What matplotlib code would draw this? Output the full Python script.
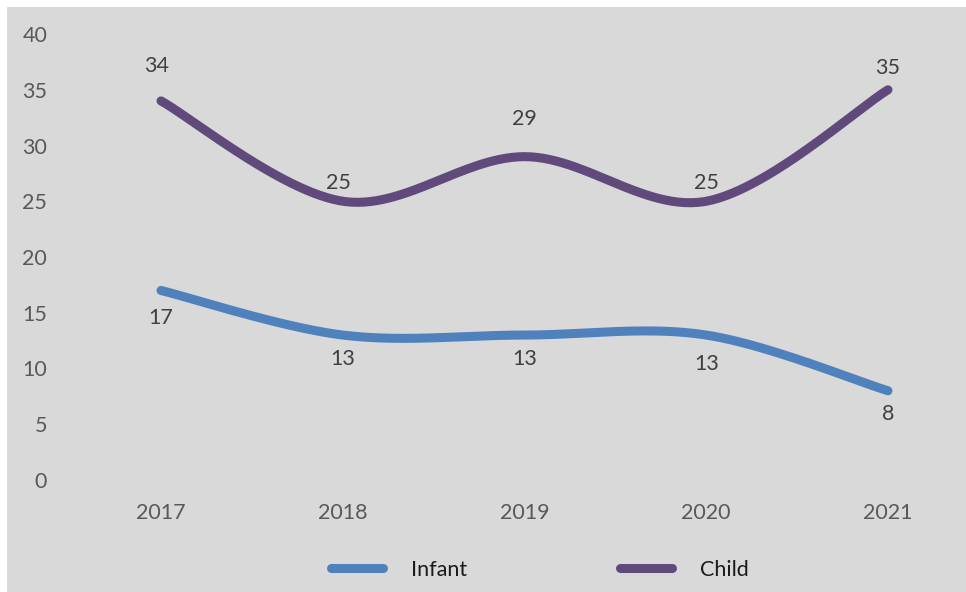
import numpy as np
import matplotlib
matplotlib.use("Agg")
import matplotlib.pyplot as plt
from matplotlib.patches import Rectangle
from matplotlib.lines import Line2D

years = [2017, 2018, 2019, 2020, 2021]
infant = [17, 13, 13, 13, 8]
child = [34, 25, 29, 25, 35]
y_ticks = [0, 5, 10, 15, 20, 25, 30, 35, 40]
series_names = ["Infant", "Child"]

# label offsets (points) for each data label
infant_off = [(0, -20), (0, -17), (0, -17), (0, -21), (0, -17)]
child_off = [(-3, 25), (-3, 13), (0, 27), (0, 13), (0, 15.5)]

BLUE = "#4F81BD"
PURPLE = "#604A7B"
BG = "#D9D9D9"
FONT = "Lato"


def smooth(xs, ys, n=60):
    """Excel-like smoothed line (Catmull-Rom style cubic Bezier)."""
    xs = np.asarray(xs, float)
    ys = np.asarray(ys, float)
    P = np.column_stack([xs, ys])
    out = []
    m = len(P)
    t = np.linspace(0, 1, n)[:, None]
    for i in range(m - 1):
        p0 = P[i]
        p3 = P[i + 1]
        pm = P[i - 1] if i > 0 else P[i]
        pp = P[i + 2] if i + 2 < m else P[i + 1]
        c1 = p0 + (p3 - pm) / 6.0
        c2 = p3 - (pp - p0) / 6.0
        seg = ((1 - t) ** 3) * p0 + 3 * ((1 - t) ** 2) * t * c1 + 3 * (1 - t) * t ** 2 * c2 + t ** 3 * p3
        out.append(seg if i == 0 else seg[1:])
    S = np.vstack(out)
    return S[:, 0], S[:, 1]


W, H = 966, 592
fig = plt.figure(figsize=(W / 100, H / 100), dpi=100, facecolor="white")
fig.patches.append(Rectangle((7 / W, 0), 1 - 7 / W, 1 - 7 / H, transform=fig.transFigure,
                             facecolor=BG, edgecolor="none", zorder=-10))

ax_l, ax_r, ax_t, ax_b = 100, 950, 30, 485
ax = fig.add_axes([ax_l / W, 1 - ax_b / H, (ax_r - ax_l) / W, (ax_b - ax_t) / H])
ax.set_zorder(5)
ax.set_facecolor("none")
for s in ax.spines.values():
    s.set_visible(False)

px_per_year = (888 - 161) / 4
ax.set_xlim(2017 - (161 - ax_l) / px_per_year, 2021 + (ax_r - 888) / px_per_year)
px_per_unit = (480 - 34) / 40
ax.set_ylim(0 - (ax_b - 480) / px_per_unit, 40 + (34 - ax_t) / px_per_unit)

ax.set_xticks(years)
ax.set_xticklabels([str(y) for y in years])
ax.set_yticks(y_ticks)
ax.set_yticklabels([str(v) for v in y_ticks])
ax.tick_params(axis="both", length=0, labelsize=15.5, labelcolor="#595959")
ax.tick_params(axis="y", pad=38)
ax.tick_params(axis="x", pad=13)
for lab in ax.get_xticklabels() + ax.get_yticklabels():
    lab.set_fontfamily(FONT)

for vals, color, offs in [(infant, BLUE, infant_off), (child, PURPLE, child_off)]:
    sx, sy = smooth(years, vals)
    ax.plot(sx, sy, color=color, lw=6.5, solid_capstyle="round", solid_joinstyle="round")
    for x, v, off in zip(years, vals, offs):
        ax.annotate(str(v), (x, v), xytext=off, textcoords="offset points",
                    ha="center", va="center", fontsize=15.5, color="#404040", family=FONT)

handles = [Line2D([0], [0], color=BLUE, lw=6.5, solid_capstyle="round"),
           Line2D([0], [0], color=PURPLE, lw=6.5, solid_capstyle="round")]
leg = fig.legend(handles, series_names, loc="center", bbox_to_anchor=(540 / W, 1 - 570 / H),
                 ncol=2, frameon=False, handlelength=2.4, columnspacing=7.1,
                 handletextpad=1.31, prop={"family": FONT, "size": 15.5})
leg.set_zorder(6)
for t in leg.get_texts():
    t.set_color("#1A1A1A")

fig.savefig("out.png", dpi=100, facecolor="white")
